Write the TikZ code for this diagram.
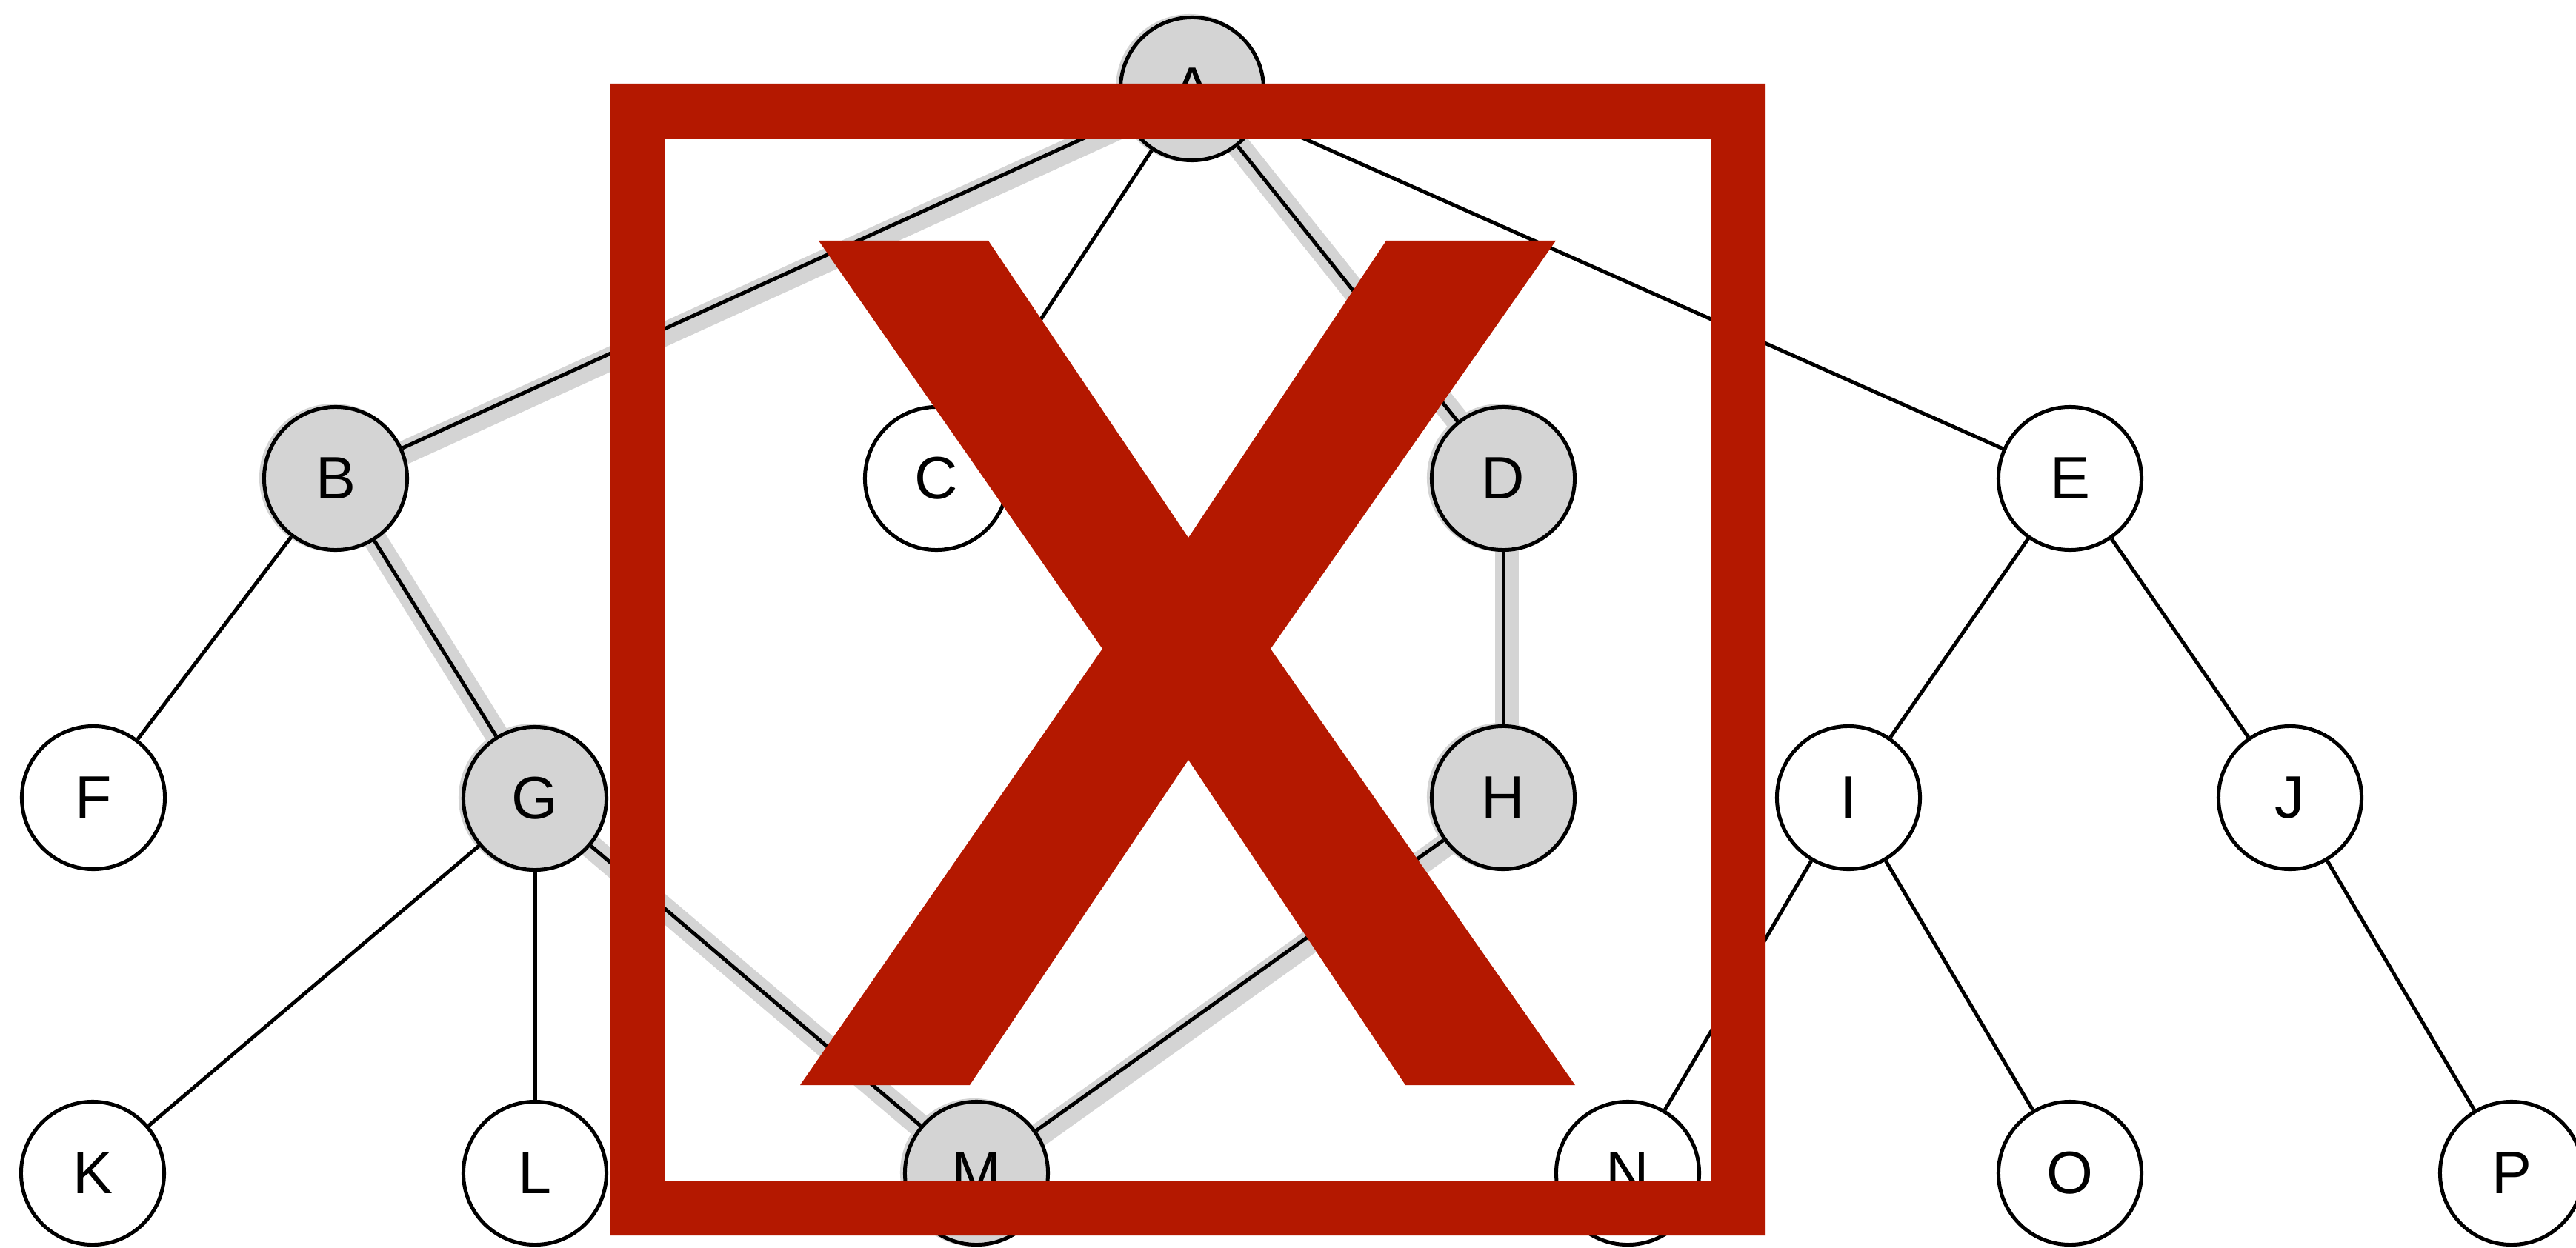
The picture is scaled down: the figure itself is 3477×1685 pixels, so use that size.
\documentclass[tikz,border=0pt]{standalone}
\usepackage{fontspec}
\setmainfont{Liberation Sans}
\definecolor{hl}{RGB}{212,212,212}
\definecolor{stopred}{RGB}{180,24,0}
\pgfdeclarelayer{background}
\pgfsetlayers{background,main}
\begin{document}
\begin{tikzpicture}[x=0.01cm,y=-0.01cm,
  vertex/.style={circle, draw=black, line width=0.05cm, fill=white,
    minimum size=1.93cm, inner sep=0pt, font=\fontsize{23}{23}\selectfont},
  visited/.style={vertex, fill=hl},
  edge/.style={line width=0.05cm},
  trail/.style={hl, line width=0.32cm, transform canvas={xshift=0.05cm,yshift=-0.05cm}},
  halo/.style={fill=hl}]
\useasboundingbox (0,0) rectangle (3477,1685);

% vertices
\node[visited] (A) at (1609,120) {A};
\node[visited] (B) at (453,646) {B};
\node[vertex]  (C) at (1264,646) {C};
\node[visited] (D) at (2029,646) {D};
\node[vertex]  (E) at (2794,646) {E};
\node[vertex]  (F) at (126,1077) {F};
\node[visited] (G) at (722,1078) {G};
\node[visited] (H) at (2029,1077) {H};
\node[vertex]  (I) at (2495,1077) {I};
\node[vertex]  (J) at (3091,1077) {J};
\node[vertex]  (K) at (125,1584) {K};
\node[vertex]  (L) at (722,1584) {L};
\node[visited] (M) at (1318,1584) {M};
\node[vertex]  (N) at (2197,1584) {N};
\node[vertex]  (O) at (2794,1584) {O};
\node[vertex]  (P) at (3390,1584) {P};

\begin{pgfonlayer}{background}
  % soft halos behind visited vertices
  \foreach \v in {A,B,D,G,H,M}
    \fill[halo] ([xshift=-0.03cm,yshift=0.01cm]\v.center) circle (1.0cm);
  % highlighted cycle
  \foreach \a/\b in {A/B,B/G,G/M,M/H,H/D,D/A}
    \draw[trail] (\a.center) -- (\b.center);
  % all edges
  \foreach \a/\b in {A/B,A/C,A/D,A/E,B/F,B/G,D/H,E/I,E/J,G/K,G/L,G/M,H/M,I/N,I/O,J/P}
    \draw[edge] (\a) -- (\b);
\end{pgfonlayer}

% red frame with a cross
\fill[stopred, even odd rule] (823,113) rectangle (2383,1668)
  (897,187) rectangle (2309,1594);
\fill[stopred] (1105,325) -- (1334,325) -- (1604,726) -- (1871,325) -- (2100,325)
  -- (1715,876) -- (2126,1465) -- (1897,1465) -- (1604,1026) -- (1309,1465)
  -- (1080,1465) -- (1488,876) -- cycle;
\end{tikzpicture}
\end{document}
